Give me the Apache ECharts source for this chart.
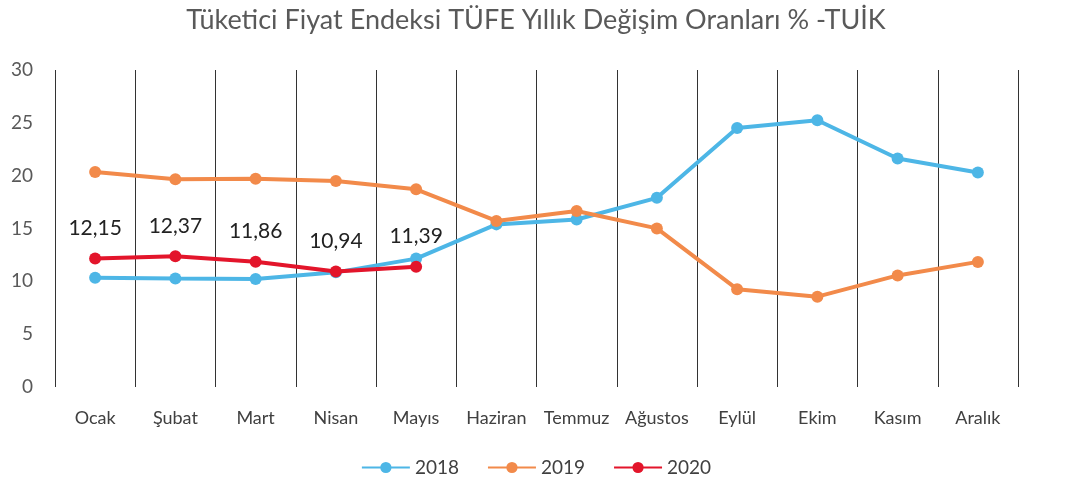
<!DOCTYPE html>
<html><head><meta charset="utf-8">
<script src="https://cdn.jsdelivr.net/npm/echarts@6/dist/echarts.min.js"></script>
<style>html,body{margin:0;padding:0;background:#fff}#c{width:1072px;height:488px}</style>
</head><body><div id="c"></div>
<script>
const months = ['Ocak','Şubat','Mart','Nisan','Mayıs','Haziran','Temmuz','Ağustos','Eylül','Ekim','Kasım','Aralık'];
const y2018 = [10.35,10.26,10.23,10.85,12.15,15.39,15.85,17.90,24.52,25.24,21.62,20.30];
const y2019 = [20.35,19.67,19.71,19.50,18.71,15.72,16.65,15.01,9.26,8.55,10.56,11.84];
const y2020 = [12.15,12.37,11.86,10.94,11.39];
const title = 'Tüketici Fiyat Endeksi TÜFE Yıllık Değişim Oranları % -TUİK';
const font = 'Lato';
const chart = echarts.init(document.getElementById('c'));
function ser(name, data, color, label){
  return {name, type:'line', data, symbol:'circle', symbolSize:12,
    lineStyle:{width:4,color}, itemStyle:{color},
    label: label ? {show:true, position:'top', distance:14, color:'#222', fontSize:21, fontFamily:font,
      formatter:p=>p.value.toFixed(2).replace('.',',')} : {show:false},
    z: label?5:3};
}
chart.setOption({
  animation:false,
  textStyle:{fontFamily:font},
  title:{text:title,left:'center',top:2,textStyle:{fontFamily:font,fontSize:27,fontWeight:'normal',color:'#595959'}},
  grid:{left:55,right:54,top:70,bottom:101,containLabel:false},
  legend:{bottom:6,left:'center',itemWidth:48,itemHeight:14,itemGap:28,
    textStyle:{fontFamily:font,fontSize:19,color:'#404040'}},
  xAxis:{type:'category',data:months,boundaryGap:true,
    axisLine:{show:false},axisTick:{show:false},
    splitLine:{show:true,interval:0,lineStyle:{color:'#333',width:1}},
    axisLabel:{interval:0,fontFamily:font,fontSize:18,color:'#404040',margin:22}},
  yAxis:{type:'value',min:0,max:30,interval:5,
    axisLine:{show:false},axisTick:{show:false},
    splitLine:{show:false},
    axisLabel:{fontFamily:font,fontSize:19,color:'#595959',margin:22}},
  series:[ser('2018',y2018,'#4DB6E6',false), ser('2019',y2019,'#F28A4A',false), ser('2020',y2020,'#E3152B',true)]
});
</script></body></html>
